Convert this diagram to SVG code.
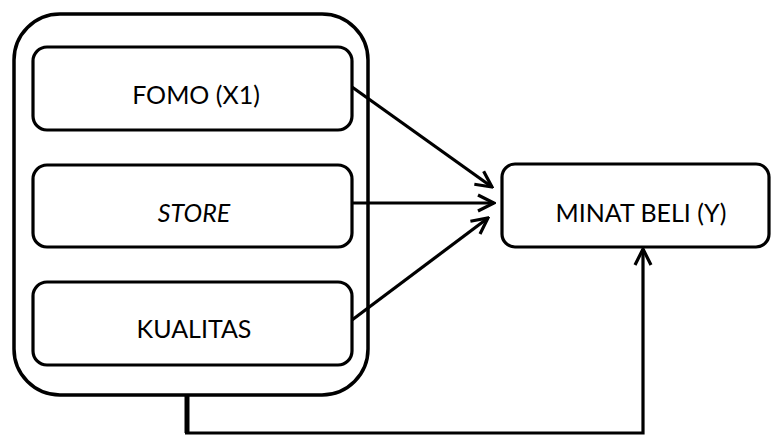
<svg xmlns="http://www.w3.org/2000/svg" width="772" height="437" viewBox="0 0 772 437">
<defs>
<style>
.box{fill:#fff;stroke:#000;stroke-width:3.2}
.outer{fill:#fff;stroke:#000;stroke-width:3.5}
.lbl{font-family:Lato,"Noto Sans",sans-serif;font-size:25px;fill:#000;text-anchor:middle}
.con{fill:none;stroke:#000;stroke-width:3.2}
</style>
<marker id="arr" viewBox="0 0 20 20" refX="18" refY="10" markerWidth="20" markerHeight="20" markerUnits="userSpaceOnUse" orient="auto">
<path d="M2,2 L18,10 L2,18" fill="none" stroke="#000" stroke-width="3.2"/>
</marker>
</defs>
<rect width="772" height="437" fill="#fff"/>
<g id="group">
<rect class="outer" x="14" y="14" width="354" height="381" rx="46" ry="46"/>
</g>
<g id="fomo">
<rect class="box" x="33" y="47" width="319" height="83" rx="14" ry="14"/>
<text class="lbl" x="196" y="104">FOMO (X1)</text>
</g>
<g id="store">
<rect class="box" x="33" y="165" width="319" height="82" rx="14" ry="14"/>
<text class="lbl" x="194" y="222" font-style="italic">STORE</text>
</g>
<g id="kualitas">
<rect class="box" x="33" y="282" width="319" height="83" rx="14" ry="14"/>
<text class="lbl" x="194" y="338">KUALITAS</text>
</g>
<g id="minat">
<rect class="box" x="502" y="164" width="267" height="83" rx="13" ry="13"/>
<text class="lbl" x="641" y="222">MINAT BELI (Y)</text>
</g>
<g id="connectors">
<line class="con" x1="352" y1="87" x2="492" y2="187" marker-end="url(#arr)"/>
<line class="con" x1="352" y1="203" x2="494" y2="203" marker-end="url(#arr)"/>
<line class="con" x1="352" y1="320" x2="488" y2="218" marker-end="url(#arr)"/>
<path d="M187,396 V433" fill="none" stroke="#000" stroke-width="5"/>
<path class="con" d="M185,433 H643 V249" marker-end="url(#arr)"/>
</g>
</svg>
